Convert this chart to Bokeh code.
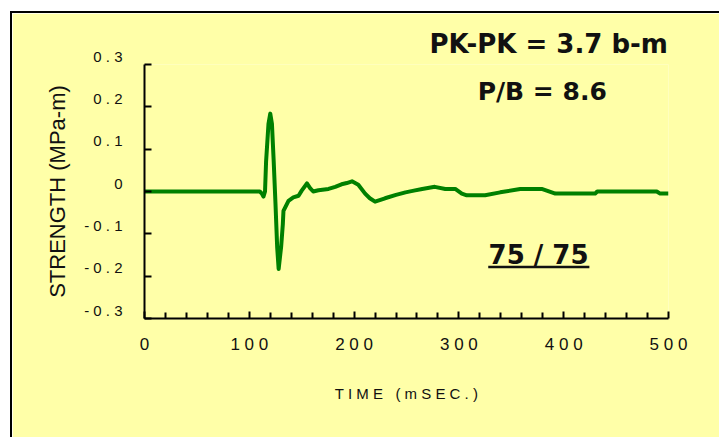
from bokeh.plotting import figure
from bokeh.models import Range1d, FixedTicker, Label
from bokeh.embed import file_html
from bokeh.resources import INLINE

# ---- data ----
time_ms = [0, 110, 112, 113.5, 115, 116, 118.3, 120, 121.6, 123.3, 125, 126.6, 128,
           130.4, 132, 132.6, 137.4, 142, 147, 150, 155, 158, 161, 166, 175.6, 182,
           188, 193, 198, 204, 210.5, 215, 220, 229.5, 240, 249, 257, 265, 277, 287,
           296.5, 302.8, 307.5, 325, 339.4, 358.5, 379, 392, 430, 432, 488.8, 492, 500]
strength = [0, 0, -0.005, -0.012, 0, 0.07, 0.16, 0.184, 0.16, 0.07, -0.03, -0.132, -0.183,
            -0.13, -0.077, -0.046, -0.022, -0.014, -0.01, 0.002, 0.019, 0.008, 0, 0.003, 0.006, 0.011,
            0.017, 0.02, 0.024, 0.016, -0.005, -0.016, -0.024, -0.016, -0.008, -0.002, 0.002, 0.006, 0.011, 0.006,
            0.006, -0.005, -0.009, -0.009, -0.002, 0.006, 0.006, -0.005, -0.005, 0, 0, -0.005, -0.005]

x_ticks = [0, 100, 200, 300, 400, 500]
x_tick_labels = ["0", "1 0 0", "2 0 0", "3 0 0", "4 0 0", "5 0 0"]
x_minor_ticks = [20, 40, 60, 80, 120, 140, 160, 180, 220, 240, 260, 280,
                 320, 340, 360, 380, 420, 440, 460, 480]
y_ticks = [-0.3, -0.2, -0.1, 0.0, 0.1, 0.2, 0.3]
y_tick_labels = ["- 0 . 3", "- 0 . 2", "- 0 . 1", "0", "0 . 1", "0 . 2", "0 . 3"]

x_title = "T I M E\u00a0\u00a0 ( m S E C . )"
y_title = "STRENGTH (MPa-m)"
note_pk = "PK-PK = 3.7 b-m"
note_pb = "P/B = 8.6"
note_id = "75 / 75"

YEL = "#FFFFA8"
GREEN = "#008000"
INK = "#111111"
FONT = "Liberation Sans"
NOTE_FONT = "DejaVu Sans"

p = figure(frame_width=524, frame_height=254,
           x_range=Range1d(0, 500), y_range=Range1d(-0.3, 0.3),
           output_backend="svg", toolbar_location=None,
           min_border_left=132, min_border_right=51,
           min_border_top=51, min_border_bottom=119,
           background_fill_color=YEL, border_fill_color=YEL,
           outline_line_color=None,
           styles={"margin-left": "10px", "margin-top": "11px",
                   "border-left": "2px solid black", "border-top": "2px solid black",
                   "margin-bottom": "-8px"})
p.grid.visible = False

# the top note sits above the plot area, as the figure's title
p.title.text = note_pk
p.title.align = "left"
p.title.offset = 285
p.title.standoff = 12
p.title.text_font = NOTE_FONT
p.title.text_font_style = "bold"
p.title.text_font_size = "26px"
p.title.text_color = INK

xa = p.xaxis[0]
xa.ticker = FixedTicker(ticks=x_ticks, minor_ticks=x_minor_ticks)
xa.major_label_overrides = dict(zip(x_ticks, x_tick_labels))
xa.axis_label = x_title
ya = p.yaxis[0]
ya.ticker = FixedTicker(ticks=y_ticks, minor_ticks=[])
# a trailing empty line lifts each value label a little above its tick, as in the original
ya.major_label_overrides = {t: s + "\n" for t, s in zip(y_ticks, y_tick_labels)}
ya.axis_label = y_title

for ax in (xa, ya):
    ax.axis_line_width = 2
    ax.axis_line_color = "black"
    ax.major_tick_in = 7
    ax.major_tick_out = 0
    ax.minor_tick_in = 6
    ax.minor_tick_out = 0
    ax.major_tick_line_width = 2
    ax.minor_tick_line_width = 2
    ax.major_label_text_font = FONT
    ax.major_label_text_color = INK
    ax.axis_label_text_font = FONT
    ax.axis_label_text_font_style = "normal"
    ax.axis_label_text_color = INK

xa.major_label_text_font_size = "17px"
xa.major_label_standoff = 16
xa.axis_label_text_font_size = "15px"
xa.axis_label_standoff = 28
ya.major_label_text_font_size = "15px"
ya.major_label_text_line_height = 1.0
ya.major_label_standoff = 22
ya.axis_label_text_font_size = "22px"
ya.axis_label_standoff = 11

p.line(time_ms, strength, line_color=GREEN, line_width=4, line_join="round")

def lab(txt, x, y, size):
    p.add_layout(Label(x=x, y=y, text=txt, text_align="center", text_baseline="middle",
                       text_font=NOTE_FONT, text_font_style="bold",
                       text_font_size=size, text_color=INK))

lab(note_pb, 379.5, 0.2369, "25px")
lab(note_id, 376.0, -0.150, "26px")
# underline of the "75 / 75" note
p.segment(x0=[328.0], y0=[-0.1781], x1=[424.5], y1=[-0.1781], line_color=INK, line_width=2.5)

open("out.html", "w").write(file_html(p, INLINE))
